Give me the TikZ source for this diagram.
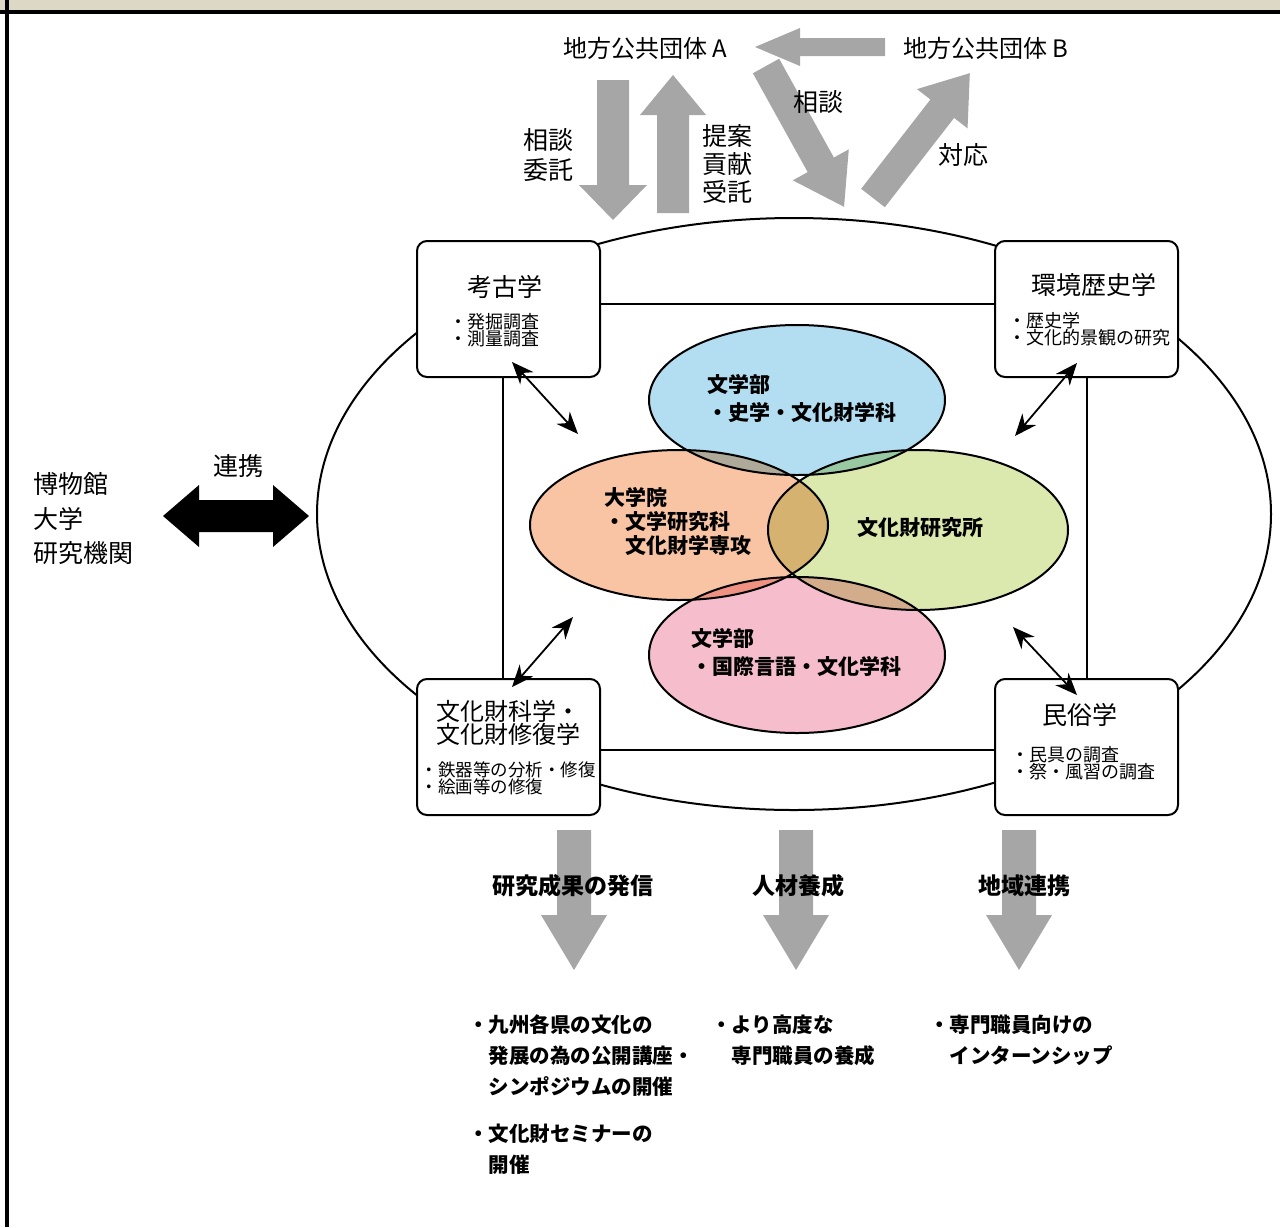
\documentclass[tikz,border=0pt]{standalone}
\usepackage{fontspec}
\setmainfont{Noto Sans CJK JP}
\usetikzlibrary{arrows.meta,calc}
\definecolor{beige}{RGB}{221,216,197}
\definecolor{agray}{RGB}{166,166,166}
\definecolor{eblue}{RGB}{179,221,240}
\definecolor{eorange}{RGB}{249,196,163}
\definecolor{egreen}{RGB}{219,232,174}
\definecolor{epink}{RGB}{246,190,204}
\tikzset{
  pics/barrow/.style args={#1/#2/#3/#4}{code={
    \fill[agray] (0,-#2) -- ({#1-#4},-#2) -- ({#1-#4},-#3) -- (#1,0) -- ({#1-#4},#3) -- ({#1-#4},#2) -- (0,#2) -- cycle;}},
  box/.style={draw, line width=2pt, fill=white, rounded corners=10pt, minimum width=183pt, minimum height=136pt, inner sep=0pt},
  tbig/.style={inner sep=0pt, font=\fontsize{25}{30}\selectfont},
  ttop/.style={inner sep=0pt, font=\fontsize{24}{28}\selectfont},
  tbul/.style={inner sep=0pt, anchor=west, align=left, font=\fontsize{18}{17}\selectfont},
  tell/.style={inner sep=0pt, align=left, font=\fontsize{21}{26}\selectfont\bfseries},
  tlab/.style={inner sep=0pt, font=\fontsize{23}{28}\selectfont\bfseries},
  tout/.style={inner sep=0pt, anchor=west, align=left, font=\fontsize{20.5}{31}\selectfont\bfseries},
  dbl/.style={{Stealth[length=22pt,width=18pt]}-{Stealth[length=22pt,width=18pt]}, line width=1.8pt},
  eline/.style={line width=2pt},
}
\begin{document}
\begin{tikzpicture}[x=1pt,y=-1pt]
\useasboundingbox (0,0) rectangle (1280,1227);
% frame
\fill[beige] (0,0) rectangle (1280,11);
\draw[line width=3.5pt] (0,12) -- (1280,12);
\draw[line width=4pt] (7,0) -- (7,1227);

% outer ellipse and inner rectangle
\draw[eline] (794,514) ellipse [x radius=477, y radius=296];
\draw[eline] (503,304) rectangle (1087,750);

% boxes
\node[box] (bA) at (508.5,309) {};
\node[box] (bB) at (1086.5,309) {};
\node[box] (bC) at (508.5,747) {};
\node[box] (bD) at (1086.5,747) {};

% inner ellipses with multiply blend
\begin{scope}[blend group=multiply]
\fill[eblue] (797,400) ellipse [x radius=148, y radius=75];
\fill[eorange] (679,525) ellipse [x radius=149, y radius=75];
\fill[egreen] (918,530) ellipse [x radius=150, y radius=80];
\fill[epink] (797,655) ellipse [x radius=148, y radius=78];
\end{scope}
\draw[eline] (797,400) ellipse [x radius=148, y radius=75];
\draw[eline] (679,525) ellipse [x radius=149, y radius=75];
\draw[eline] (918,530) ellipse [x radius=150, y radius=80];
\draw[eline] (797,655) ellipse [x radius=148, y radius=78];

% gray block arrows (top)
\pic[rotate=180] at (885,47) {barrow=130/9/19/45};
\pic[rotate=-90] at (613,80) {barrow=140/16/34/35};
\pic[rotate=90] at (673,213) {barrow=138/16/33/40};
\pic[rotate=-61] at (766,66) {barrow=161/15/32/48};
\pic[rotate=52.2] at (873,198) {barrow=158/15/32/45};
% gray block arrows (bottom)
\pic[rotate=-90] at (574,830) {barrow=140/17/33/55};
\pic[rotate=-90] at (796,830) {barrow=140/17/33/55};
\pic[rotate=-90] at (1019,830) {barrow=140/17/33/55};

% black double block arrow
\fill (163,516) -- (199,485) -- (199,500) -- (273,500) -- (273,485) -- (309,516) -- (273,547) -- (273,532) -- (199,532) -- (199,547) -- cycle;

% small double arrows
\coordinate (a1s) at (512,362); \coordinate (a1e) at (578,434);
\coordinate (a2s) at (1077,363); \coordinate (a2e) at (1015,436);
\coordinate (a3s) at (512,687); \coordinate (a3e) at (573,617);
\coordinate (a4s) at (1077,695); \coordinate (a4e) at (1013,627);
\draw[dbl] (a1s) -- (a1e);
\draw[dbl] (a2s) -- (a2e);
\draw[dbl] (a3s) -- (a3e);
\draw[dbl] (a4s) -- (a4e);

% top texts
\node[ttop] (ga) at (645,48) {地方公共団体 A};
\node[ttop] (gb) at (986,48) {地方公共団体 B};
\node[tbig, align=center, font=\fontsize{25}{30}\selectfont] (l1) at (548,155) {相談\\委託};
\node[tbig, align=center, font=\fontsize{25}{28}\selectfont] (l2) at (727,164) {提案\\貢献\\受託};
\node[tbig] (l3) at (818,102) {相談};
\node[tbig] (l4) at (963,155) {対応};

% left texts
\node[tbig, anchor=west] (m1) at (33,484) {博物館};
\node[tbig, anchor=west] (m2) at (33,519) {大学};
\node[tbig, anchor=west] (m3) at (33,553) {研究機関};
\node[tbig] (renkei) at (238,466) {連携};

% box texts
\node[tbig] (tA) at (505,287) {考古学};
\node[tbul] (sA) at (449,330) {・発掘調査\\・測量調査};
\node[tbig] (tB) at (1094,285) {環境歴史学};
\node[tbul] (sB) at (1008,329) {・歴史学\\・文化的景観の研究};
\node[tbig, anchor=west, align=left, font=\fontsize{24}{23}\selectfont] (tC) at (436,723) {文化財科学・\\文化財修復学};
\node[tbul, anchor=center, font=\fontsize{17.5}{17}\selectfont] (sC) at (508,778) {・鉄器等の分析・修復\\・絵画等の修復};
\node[tbig] (tD) at (1080,715) {民俗学};
\node[tbul] (sD) at (1011,763) {・民具の調査\\・祭・風習の調査};

% ellipse texts
\node[tell, anchor=west, font=\fontsize{21}{28}\selectfont\bfseries] (eB) at (707,399) {文学部\\・史学・文化財学科};
\node[tell, anchor=west, font=\fontsize{21}{24}\selectfont\bfseries] (eO) at (604,521) {大学院\\・文学研究科\\\hspace*{1em}文化財学専攻};
\node[tell] (eG) at (920,528) {文化財研究所};
\node[tell, anchor=west, font=\fontsize{21}{28}\selectfont\bfseries] (eP) at (691,652) {文学部\\・国際言語・文化学科};

% bottom labels
\node[tlab] (b1) at (573,886) {研究成果の発信};
\node[tlab] (b2) at (798,886) {人材養成};
\node[tlab] (b3) at (1024,886) {地域連携};

% outcome texts
\node[tout] (o1) at (468,1056) {・九州各県の文化の\\\hspace*{1em}発展の為の公開講座・\\\hspace*{1em}シンポジウムの開催};
\node[tout] (o2) at (468,1149) {・文化財セミナーの\\\hspace*{1em}開催};
\node[tout] (o3) at (711,1040.5) {・より高度な\\\hspace*{1em}専門職員の養成};
\node[tout] (o4) at (929,1040.5) {・専門職員向けの\\\hspace*{1em}インターンシップ};
\end{tikzpicture}
\end{document}
